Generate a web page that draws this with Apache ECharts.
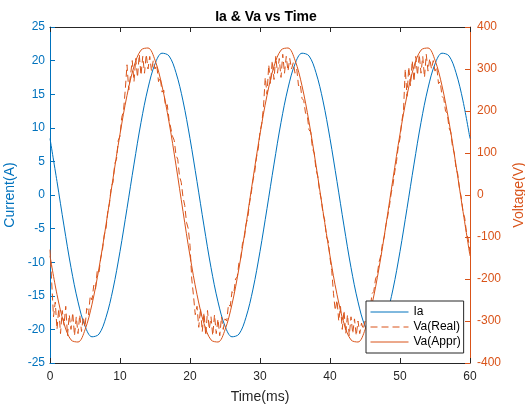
<!DOCTYPE html>
<html>
<head>
<meta charset="utf-8">
<script src="https://cdn.jsdelivr.net/npm/echarts@6/dist/echarts.min.js"></script>
<style>html,body{margin:0;padding:0;background:#fff}#c{width:525px;height:404px}</style>
</head>
<body>
<div id="c"></div>
<script>
// time grid for smooth curves (ms), 1 ms step
const timeCoarse = [0,1,2,3,4,5,6,7,8,9,10,11,12,13,14,15,16,17,18,19,20,21,22,23,24,25,26,27,28,29,30,31,32,33,34,35,36,37,38,39,40,41,42,43,44,45,46,47,48,49,50,51,52,53,54,55,56,57,58,59,60];
// Ia (A)
const ia = [8.4,2.0,-4.6,-10.8,-15.9,-19.5,-21.1,-20.7,-18.2,-14.0,-8.4,-2.0,4.6,10.8,15.9,19.5,21.1,20.7,18.2,14.0,
  8.4,2.0,-4.6,-10.8,-15.9,-19.5,-21.1,-20.7,-18.2,-14.0,-8.4,-2.0,4.6,10.8,15.9,19.5,21.1,20.7,18.2,14.0,
  8.4,2.0,-4.6,-10.8,-15.9,-19.5,-21.1,-20.7,-18.2,-14.0,-8.4,-2.0,4.6,10.8,15.9,19.5,21.1,20.7,18.2,14.0,8.4];
// Va(Appr) (V)
const vaAppr = [-145,-237,-306,-345,-350,-321,-260,-174,-71,39,145,237,306,345,350,321,260,174,71,-39,
  -145,-237,-306,-345,-350,-321,-260,-174,-71,39,145,237,306,345,350,321,260,174,71,-39,
  -145,-237,-306,-345,-350,-321,-260,-174,-71,39,145,237,306,345,350,321,260,174,71,-39,-145];
// Va(Real) (V), sampled every 0.25 ms from 0 to 60 ms
const vaRealStep = 0.25;
const vaReal = [
  -130,-210,-290,-255,-320,-270,-330,-275,-310,-265,
  -335,-285,-320,-280,-335,-290,-330,-285,-325,-290,
  -315,-270,-285,-240,-250,-215,-225,-180,-185,-150,
  -130,-95,-80,-40,-20,20,30,75,85,130,
  140,185,200,250,310,250,285,320,270,325,
  280,335,285,330,290,335,300,330,295,320,
  300,310,270,280,245,250,210,215,180,180,
  140,130,95,85,45,30,-5,-25,-65,-80,
  -120,-200,-240,-285,-265,-315,-270,-325,-280,-335,
  -275,-320,-290,-335,-285,-330,-295,-335,-290,-320,
  -295,-300,-260,-265,-230,-235,-200,-195,-160,-150,
  -115,-105,-70,-55,-20,5,35,55,90,110,
  150,170,210,280,240,310,265,320,275,330,
  290,325,280,335,290,330,295,325,300,315,
  290,300,260,265,230,225,195,190,155,150,
  110,100,60,45,10,-10,-45,-60,-100,-110,
  -150,-180,-235,-275,-250,-300,-265,-320,-275,-330,
  -285,-335,-290,-330,-295,-335,-300,-330,-305,-320,
  -300,-305,-265,-270,-235,-230,-200,-190,-160,-145,
  -115,-100,-70,-50,-25,5,25,55,80,115,
  135,175,200,300,235,305,260,320,270,330,
  285,335,290,330,280,335,295,325,300,320,
  295,305,265,270,235,230,200,195,160,150,
  115,100,65,50,15,-5,-40,-55,-90,-105,
  -135];
const xTicks = [0,10,20,30,40,50,60];
const leftTicks = [-25,-20,-15,-10,-5,0,5,10,15,20,25];
const rightTicks = [-400,-300,-200,-100,0,100,200,300,400];

const BLUE = '#0072BD', ORANGE = '#D95319', DARK = '#262626';
const FONT = 'Liberation Sans, Arial, sans-serif';

const iaData = timeCoarse.map((t, i) => [t, ia[i]]);
const apprData = timeCoarse.map((t, i) => [t, vaAppr[i]]);
const realData = vaReal.map((v, i) => [i * vaRealStep, v]);

const chart = echarts.init(document.getElementById('c'));
chart.setOption({
  animation: false,
  backgroundColor: '#fff',
  textStyle: { fontFamily: FONT },
  title: {
    text: 'Ia & Va vs Time', left: 261, textAlign: 'center', top: 5,
    textStyle: { fontSize: 14, fontWeight: 'bold', color: '#000', fontFamily: FONT }
  },
  grid: { left: 50, right: 55, top: 27, bottom: 41, containLabel: false, outerBoundsMode: 'none' },
  legend: {
    orient: 'vertical', left: 366, top: 301,
    padding: [5, 3, 5, 4], itemGap: 3, itemWidth: 38, itemHeight: 12,
    backgroundColor: '#fff', borderColor: DARK, borderWidth: 1, borderRadius: 0,
    itemStyle: { opacity: 0 },
    lineStyle: { width: 1 },
    textStyle: { fontSize: 12, lineHeight: 12, color: '#000', fontFamily: FONT },
    data: ['Ia', 'Va(Real)', 'Va(Appr)']
  },
  xAxis: [{
    type: 'value', min: 0, max: 60, interval: 10, position: 'bottom',
    name: 'Time(ms)', nameLocation: 'middle', nameGap: 27,
    nameTextStyle: { fontSize: 14, color: DARK, fontFamily: FONT },
    axisLine: { onZero: false, lineStyle: { color: DARK, width: 1 } },
    axisTick: { inside: true, length: 5, lineStyle: { color: DARK } },
    axisLabel: { fontSize: 12, color: DARK, margin: 8, fontFamily: FONT,
      formatter: v => xTicks.includes(v) ? String(v) : '' },
    splitLine: { show: false }
  }, {
    type: 'value', min: 0, max: 60, interval: 10, position: 'top',
    axisLine: { onZero: false, lineStyle: { color: DARK, width: 1 } },
    axisTick: { inside: true, length: 5, lineStyle: { color: DARK } },
    axisLabel: { show: false }, splitLine: { show: false }
  }],
  yAxis: [{
    type: 'value', min: -25, max: 25, interval: 5, position: 'left',
    name: 'Current(A)', nameLocation: 'middle', nameGap: 29, nameRotate: 90,
    nameTextStyle: { fontSize: 14, color: BLUE, fontFamily: FONT },
    axisLine: { show: true, onZero: false, lineStyle: { color: BLUE, width: 1 } },
    axisTick: { show: true, inside: true, length: 5, lineStyle: { color: BLUE } },
    axisLabel: { fontSize: 12, color: BLUE, margin: 5, fontFamily: FONT,
      formatter: v => leftTicks.includes(v) ? String(v) : '' },
    splitLine: { show: false }
  }, {
    type: 'value', min: -400, max: 400, interval: 100, position: 'right',
    name: 'Voltage(V)', nameLocation: 'middle', nameGap: 35, nameRotate: 90,
    nameTextStyle: { fontSize: 14, color: ORANGE, fontFamily: FONT },
    axisLine: { show: true, onZero: false, lineStyle: { color: ORANGE, width: 1 } },
    axisTick: { show: true, inside: true, length: 5, lineStyle: { color: ORANGE } },
    axisLabel: { fontSize: 12, color: ORANGE, margin: 7, fontFamily: FONT,
      formatter: v => rightTicks.includes(v) ? String(v) : '' },
    splitLine: { show: false }
  }],
  series: [{
    name: 'Ia', type: 'line', yAxisIndex: 0, data: iaData, smooth: 0.35,
    symbol: 'none', lineStyle: { color: BLUE, width: 1 }, itemStyle: { color: BLUE }
  }, {
    name: 'Va(Real)', type: 'line', yAxisIndex: 1, data: realData,
    symbol: 'none', lineStyle: { color: ORANGE, width: 1, type: [7, 4] }, itemStyle: { color: ORANGE }
  }, {
    name: 'Va(Appr)', type: 'line', yAxisIndex: 1, data: apprData, smooth: 0.35,
    symbol: 'none', lineStyle: { color: ORANGE, width: 1 }, itemStyle: { color: ORANGE }
  }]
});
</script>
</body>
</html>
